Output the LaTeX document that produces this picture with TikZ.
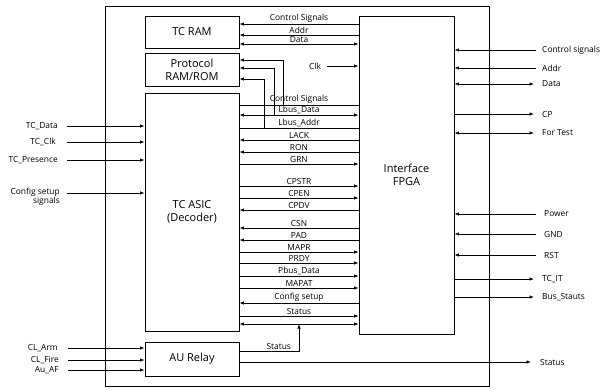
\documentclass[tikz,border=0pt]{standalone}
\usepackage{fontspec}
\setmainfont{Open Sans}
\usetikzlibrary{arrows.meta}

\begin{document}
\begin{tikzpicture}[x=1pt,y=-1pt,
	>={Latex[length=4.5pt,width=3.5pt]},
	blk/.style={draw,line width=0.9pt,inner sep=0pt,align=center,font=\fontsize{11}{13}\selectfont},
	lbl/.style={inner sep=1pt,font=\fontsize{8.4}{9.4}\selectfont},
	sig/.style={line width=0.75pt}]
	\useasboundingbox (0,0) rectangle (605,389);
	
	%Frame
	\draw [line width=0.8pt] (105,6) rectangle (489,386);
	
	%Blocks
	\node [blk,minimum width=94pt,minimum height=32pt] (ram) at (192,32) {TC RAM};
	\node [blk,minimum width=94pt,minimum height=33pt] (proto) at (192,69.5) {Protocol\\RAM/ROM};
	\node [blk,minimum width=94pt,minimum height=238pt] (asic) at (192,212) {TC ASIC\\(Decoder)};
	\node [blk,minimum width=95pt,minimum height=318pt] (fpga) at (406.5,175) {Interface\\FPGA};
	\node [blk,minimum width=94pt,minimum height=34pt] (au) at (192,359) {AU Relay};
	
	%RAM bus
	\draw [sig,<-] (ram.east |- 0,24) -- (fpga.west |- 0,24) node [lbl,above,midway] {Control Signals};
	\draw [sig,<-] (ram.east |- 0,35) -- (fpga.west |- 0,35) node [lbl,above,midway] {Addr};
	\draw [sig,<->] (ram.east |- 0,44) -- (fpga.west |- 0,44) node [lbl,above,midway] {Data};
	
	%Clock
	\node [lbl] (clk) at (315,66) {Clk};
	\draw [sig,->] ([xshift=5pt]clk.east) -- (fpga.west |- clk);
	
	%Protocol taps
	\coordinate (tapA) at (283,105);
	\coordinate (tapB) at (274,115);
	\coordinate (tapC) at (264,128);
	\draw [sig,<-] (proto.east |- 0,60) -| (tapA);
	\draw [sig,<-] (proto.east |- 0,68) -| (tapB);
	\draw [sig,<-] (proto.east |- 0,79) -| (tapC);
	
	%ASIC bus
	\draw [sig] (asic.east |- 0,105) -- (fpga.west |- 0,105) node [lbl,above,midway] {Control Signals};
	\draw [sig,<->] (asic.east |- 0,115) -- (fpga.west |- 0,115) node [lbl,above,midway] {Lbus\_Data};
	\draw [sig] (asic.east |- 0,128) -- (fpga.west |- 0,128) node [lbl,above,midway] {Lbus\_Addr};
	\draw [sig,<-] (asic.east |- 0,140) -- (fpga.west |- 0,140) node [lbl,above,midway] {LACK};
	\draw [sig,<-] (asic.east |- 0,152) -- (fpga.west |- 0,152) node [lbl,above,midway] {RON};
	\draw [sig,->] (asic.east |- 0,164) -- (fpga.west |- 0,164) node [lbl,above,midway] {GRN};
	\draw [sig,->] (asic.east |- 0,186) -- (fpga.west |- 0,186) node [lbl,above,midway] {CPSTR};
	\draw [sig,->] (asic.east |- 0,198) -- (fpga.west |- 0,198) node [lbl,above,midway] {CPEN};
	\draw [sig,<-] (asic.east |- 0,210) -- (fpga.west |- 0,210) node [lbl,above,midway] {CPDV};
	\draw [sig,<-] (asic.east |- 0,228) -- (fpga.west |- 0,228) node [lbl,above,midway] {CSN};
	\draw [sig,<-] (asic.east |- 0,240) -- (fpga.west |- 0,240) node [lbl,above,midway] {PAD};
	\draw [sig,->] (asic.east |- 0,252) -- (fpga.west |- 0,252) node [lbl,above,midway] {MAPR};
	\draw [sig,->] (asic.east |- 0,263) -- (fpga.west |- 0,263) node [lbl,above,midway] {PRDY};
	\draw [sig,->] (asic.east |- 0,276) -- (fpga.west |- 0,276) node [lbl,above,midway] {Pbus\_Data};
	\draw [sig,->] (asic.east |- 0,288) -- (fpga.west |- 0,288) node [lbl,above,midway] {MAPAT};
	\draw [sig,<-] (asic.east |- 0,303) -- (fpga.west |- 0,303) node [lbl,above,midway] {Config setup};
	\draw [sig,->] (asic.east |- 0,316) -- (fpga.west |- 0,316) node [lbl,above,midway] {Status};
	\draw [sig,<->] (asic.east |- 0,324) -- (fpga.west |- 0,324);
	
	%AU relay status
	\coordinate (stup) at (299,324);
	\draw [sig,->] (au.east |- 0,351) -| (stup) node [lbl,above,pos=0.33] {Status};
	
	%Left inputs
	\node [lbl,anchor=east] (tcdata) at (59,126) {TC\_Data};
	\node [lbl,anchor=east] (tcclk) at (57,142) {TC\_Clk};
	\node [lbl,anchor=east] (tcpres) at (59,160) {TC\_Presence};
	\node [lbl,anchor=east,align=right] (cfg) at (61,197) {Config setup\\signals};
	\node [lbl,anchor=east] (clarm) at (59,348) {CL\_Arm};
	\node [lbl,anchor=east] (clfire) at (60,360) {CL\_Fire};
	\node [lbl,anchor=east] (auaf) at (60,370) {Au\_AF};
	\draw [sig,->] ([xshift=8pt]tcdata.east) -- (asic.west |- tcdata);
	\draw [sig,->] ([xshift=10pt]tcclk.east) -- (asic.west |- tcclk);
	\draw [sig,->] ([xshift=8pt]tcpres.east) -- (asic.west |- tcpres);
	\draw [sig,->] ([xshift=6pt,yshift=4pt]cfg.east) -- (asic.west |- 0,193);
	\draw [sig,->] ([xshift=9pt]clarm.east) -- (au.west |- clarm);
	\draw [sig,->] ([xshift=8pt]clfire.east) -- (au.west |- clfire);
	\draw [sig,->] ([xshift=8pt]auaf.east) -- (au.west |- auaf);
	
	%Right side
	\node [lbl,anchor=west] (rcs) at (541,50) {Control signals};
	\node [lbl,anchor=west] (raddr) at (541,68) {Addr};
	\node [lbl,anchor=west] (rdata) at (541,84) {Data};
	\node [lbl,anchor=west] (rcp) at (541,114) {CP};
	\node [lbl,anchor=west] (rtest) at (541,133) {For Test};
	\node [lbl,anchor=west] (rpow) at (543,214) {Power};
	\node [lbl,anchor=west] (rgnd) at (543,234) {GND};
	\node [lbl,anchor=west] (rrst) at (543,255) {RST};
	\node [lbl,anchor=west] (rtcit) at (541,279) {TC\_IT};
	\node [lbl,anchor=west] (rbus) at (541,297) {Bus\_Stauts};
	\node [lbl,anchor=west] (rstat) at (539,362) {Status};
	\draw [sig,<-] (fpga.east |- rcs) -- ([xshift=-5pt]rcs.west);
	\draw [sig,<-] (fpga.east |- raddr) -- ([xshift=-5pt]raddr.west);
	\draw [sig,<->] (fpga.east |- rdata) -- ([xshift=-7pt]rdata.west);
	\draw [sig,->] (fpga.east |- rcp) -- ([xshift=-7pt]rcp.west);
	\draw [sig,<->] (fpga.east |- rtest) -- ([xshift=-7pt]rtest.west);
	\draw [sig,<-] (fpga.east |- rpow) -- ([xshift=-7pt]rpow.west);
	\draw [sig,<-] (fpga.east |- rgnd) -- ([xshift=-7pt]rgnd.west);
	\draw [sig,<-] (fpga.east |- rrst) -- ([xshift=-7pt]rrst.west);
	\draw [sig,->] (fpga.east |- rtcit) -- ([xshift=-7pt]rtcit.west);
	\draw [sig,->] (fpga.east |- rbus) -- ([xshift=-7pt]rbus.west);
	\draw [sig,->] (au.east |- rstat) -- ([xshift=-8pt]rstat.west);
	
\end{tikzpicture}
\end{document}
